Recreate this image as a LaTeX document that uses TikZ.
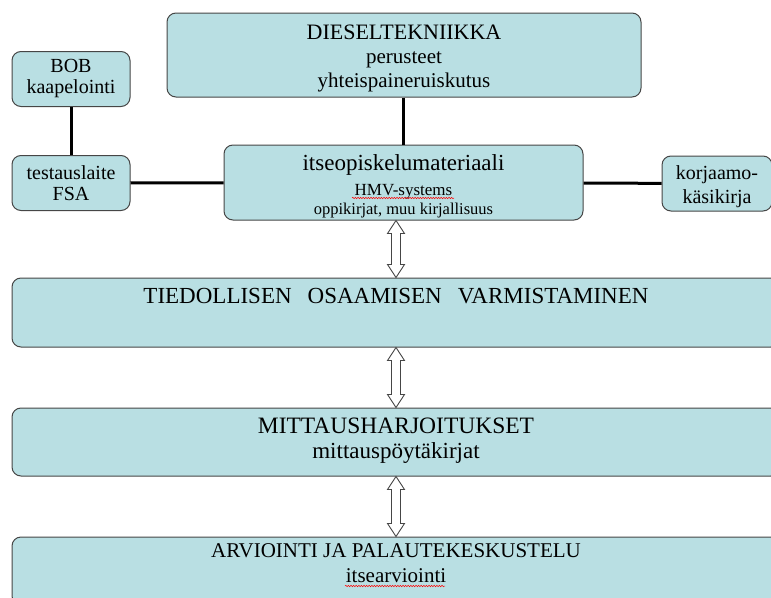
\documentclass[tikz,border=0pt]{standalone}
\usepackage{fontspec}
\setmainfont{Liberation Serif}
\usepackage{tikz}
\usetikzlibrary{calc,decorations.pathmorphing}
\definecolor{boxblue}{RGB}{185,223,227}
\definecolor{rimgray}{RGB}{70,70,70}
\newcommand{\fs}[2]{\fontsize{#1}{#2}\selectfont}
% kaksisuuntainen ontto nuoli pisteesta #1 alas pisteeseen #2
\newcommand{\kaksoisnuoli}[2]{%
  \draw[nuoli] (#1) -- ++(8.5,13) -- ++(-4,0) -- ($(#2)+(4.5,-13)$) -- ++(4,0) -- (#2)
    -- ++(-8.5,-13) -- ++(4,0) -- ($(#1)+(-4.5,13)$) -- ++(-4,0) -- cycle;}

\begin{document}
\begin{tikzpicture}[x=1pt, y=-1pt,
  every node/.style={inner sep=2pt},
  kasti/.style={draw=rimgray, fill=boxblue, line width=1pt, rounded corners=9pt, align=center},
  linkki/.style={line width=3pt, black},
  nuoli/.style={draw=rimgray, fill=white, line width=0.9pt, line join=miter},
  aaltoviiva/.style={red, line width=0.5pt, decorate, decoration={snake, amplitude=0.7pt, segment length=2.6pt}}]
  \useasboundingbox (0,0) rectangle (771,597);
  \clip (0,0) rectangle (771,597);
  \node[kasti, font=\fs{21}{24}, minimum width=474pt, minimum height=84pt] (diesel) at (404,55)
    {\rule{0pt}{22pt}\fs{22}{24}DIESELTEKNIIKKA\\ perusteet\\ yhteispaineruiskutus};
  \node[kasti, font=\fs{20}{21}, minimum width=118pt, minimum height=55pt] (bob) at (71,79)
    {BOB\\ kaapelointi};
  \node[kasti, font=\fs{20}{21}, minimum width=118pt, minimum height=55pt] (fsa) at (71,183)
    {testauslaite\\ FSA};
  \node[kasti, font=\fs{17}{21}, minimum width=359pt, minimum height=75pt] (itse) at (403.5,182.5)
    {\rule{0pt}{23pt}\fs{23}{25}itseopiskelumateriaali\\[4pt] HMV-systems\\[-2pt] \fs{16.5}{19}oppikirjat, muu kirjallisuus};
  \node[kasti, font=\fs{20}{24}, minimum width=110pt, minimum height=55pt] (korj) at (717,183.5)
    {\rule{0pt}{21pt}korjaamo-\\ käsikirja};
  \node[kasti, font=\fs{23}{24}, minimum width=768pt, minimum height=69pt, text depth=33pt] (tied) at (396,312.5)
    {TIEDOLLISEN\hspace{16pt}OSAAMISEN\hspace{16pt}VARMISTAMINEN};
  \node[kasti, font=\fs{23}{25}, minimum width=768pt, minimum height=68pt, text depth=8pt] (mitt) at (396,442)
    {\fs{23.5}{25}MITTAUSHARJOITUKSET\\ mittauspöytäkirjat};
  \node[kasti, font=\fs{21}{25}, minimum width=768pt, minimum height=68pt, text depth=15pt] (arv) at (396,571)
    {ARVIOINTI JA PALAUTEKESKUSTELU\\ itsearviointi};
  % oikoluvun merkinnat
  \draw[aaltoviiva] (352,198) -- (454,198);
  \draw[aaltoviiva] (345,586) -- (445,586);
  % yhdysviivat
  \draw[linkki] (bob) -- (fsa);
  \draw[linkki] (fsa) -- (itse);
  \draw[linkki] (diesel.south -| itse.north) -- (itse.north);
  \draw[linkki] (itse) -- (korj);
  % kaksisuuntaiset nuolet
  \coordinate (n1a) at (itse.south -| tied.north);
  \kaksoisnuoli{n1a}{tied.north}
  \kaksoisnuoli{tied.south}{mitt.north}
  \kaksoisnuoli{mitt.south}{arv.north}
\end{tikzpicture}
\end{document}
